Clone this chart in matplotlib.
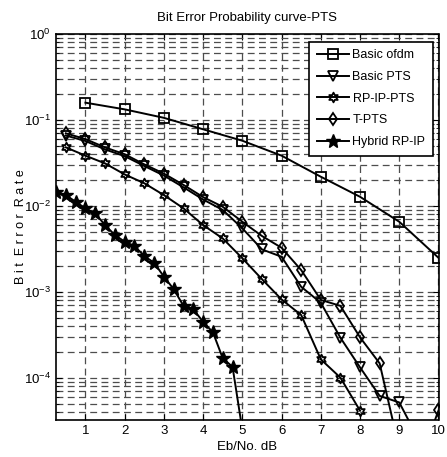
import numpy as np
import matplotlib
matplotlib.use("Agg")
import matplotlib.pyplot as plt
from matplotlib.path import Path
from matplotlib.ticker import LogLocator, NullFormatter

plt.rcParams['font.family'] = ['Liberation Sans', 'DejaVu Sans']

# -----------------------------
# Data
# -----------------------------
x_ofdm = [1, 2, 3, 4, 5, 6, 7, 8, 9, 10]
ber_ofdm = [0.159, 0.133, 0.106, 0.078, 0.0574, 0.0385, 0.0219, 0.0128, 0.00656, 0.0025]

x_pts = [0.5, 1.0, 1.5, 2.0, 2.5, 3.0, 3.5, 4.0, 4.5, 5.0,
         5.5, 6.0, 6.5, 7.0, 7.5, 8.0, 8.5, 9.0, 9.5]
ber_pts = [0.0660, 0.0570, 0.0455, 0.0380, 0.0292, 0.0226, 0.0165, 0.0119, 0.0090, 0.0055,
           0.00313, 0.00257, 0.00115, 0.00075, 0.000294, 0.000133, 6.2e-5, 5.2e-5, 1.9e-5]

x_rpip = [0.5, 1.0, 1.5, 2.0, 2.5, 3.0, 3.5, 4.0, 4.5, 5.0,
          5.5, 6.0, 6.5, 7.0, 7.5, 8.0]
ber_rpip = [0.0481, 0.0385, 0.0313, 0.0233, 0.0184, 0.0134, 0.0094, 0.0060, 0.0042, 0.00247,
            0.00141, 0.00082, 0.00054, 0.000165, 0.000101, 4.17e-5]

x_tpts = [0.5, 1.0, 1.5, 2.0, 2.5, 3.0, 3.5, 4.0, 4.5, 5.0,
          5.5, 6.0, 6.5, 7.0, 7.5, 8.0, 8.5, 9.0, 9.5, 10.0]
ber_tpts = [0.0700, 0.0600, 0.0480, 0.0400, 0.0305, 0.0238, 0.0176, 0.0127, 0.0098, 0.00656,
            0.00448, 0.00327, 0.0018, 0.00081, 0.00069, 0.000297, 0.000148, 1.5e-5, 1.0e-5, 4.2e-5]

x_hyb = [0.25, 0.5, 0.75, 1.0, 1.25, 1.5, 1.75, 2.0, 2.25, 2.5,
         2.75, 3.0, 3.25, 3.5, 3.75, 4.0, 4.25, 4.5, 4.75, 5.0]
ber_hyb = [0.0144, 0.0134, 0.0112, 0.0094, 0.0082, 0.0060, 0.0046, 0.00385, 0.00343, 0.00262,
           0.00219, 0.00151, 0.00108, 0.00069, 0.00063, 0.00045, 0.00034, 0.00017, 0.000135, 2.5e-5]

x_ticks = [1, 2, 3, 4, 5, 6, 7, 8, 9, 10]


def hexagram_marker():
    # six-pointed star like MATLAB's 'h'
    pts = []
    for i in range(12):
        ang = np.pi / 2 + i * np.pi / 6
        r = 1.0 if i % 2 == 0 else 0.55
        pts.append((r * np.cos(ang), r * np.sin(ang)))
    pts.append(pts[0])
    codes = [Path.MOVETO] + [Path.LINETO] * 11 + [Path.CLOSEPOLY]
    return Path(pts, codes)


# -----------------------------
# Plot
# -----------------------------
fig = plt.figure(figsize=(4.47, 4.57), dpi=100)
ax = fig.add_axes([56 / 447, 37 / 457, 382.5 / 447, 386 / 457])

style = dict(color='k', linewidth=1.4, markerfacecolor='none', markeredgecolor='k',
             markeredgewidth=1.3)
ax.semilogy(x_ofdm, ber_ofdm, marker='s', markersize=6.5, label='Basic ofdm', **style)
ax.semilogy(x_pts, ber_pts, marker='v', markersize=6.5, label='Basic PTS', **style)
ax.semilogy(x_rpip, ber_rpip, marker=hexagram_marker(), markersize=7, label='RP-IP-PTS', **style)
ax.semilogy(x_tpts, ber_tpts, marker='d', markersize=6.5, label='T-PTS', **style)
ax.semilogy(x_hyb, ber_hyb, marker='*', markersize=10, label='Hybrid RP-IP',
            color='k', linewidth=1.4, markerfacecolor='k', markeredgecolor='k')

ax.set_xlim(0.25, 10)
ax.set_ylim(10 ** -4.488, 1)
ax.set_xticks(x_ticks)
ax.set_xticklabels([str(v) for v in x_ticks])
ax.yaxis.set_major_locator(LogLocator(base=10, numticks=10))
ax.yaxis.set_minor_locator(LogLocator(base=10, subs=np.arange(2, 10), numticks=20))
ax.yaxis.set_minor_formatter(NullFormatter())

grid_kw = dict(color='0.3', linestyle=(0, (5.5, 3.5)), linewidth=0.9)
ax.grid(True, which='major', axis='both', **grid_kw)
ax.grid(True, which='minor', axis='y', **grid_kw)
ax.set_axisbelow(True)

ax.tick_params(which='both', direction='in', top=True, right=True, labelsize=9.5)
ax.tick_params(which='major', length=4)
ax.tick_params(which='minor', length=2)
for s in ax.spines.values():
    s.set_linewidth(1.2)

ax.set_title('Bit Error Probability curve-PTS', fontsize=9.5, pad=9)
ax.set_xlabel('Eb/No. dB', fontsize=9.5, labelpad=3)
ax.set_ylabel('B i t  E r r o r  R a t e', fontsize=9, labelpad=-2)

leg = ax.legend(loc='upper right', bbox_to_anchor=(1 - 5.5 / 382.5, 1 - 7.7 / 386),
                fontsize=9, frameon=True, fancybox=False, edgecolor='k',
                handlelength=2.6, handletextpad=0.25, borderpad=0.6, labelspacing=0.78,
                borderaxespad=0)
leg.get_frame().set_linewidth(1.2)
leg.get_frame().set_alpha(1)

fig.savefig('out.png', dpi=100)
